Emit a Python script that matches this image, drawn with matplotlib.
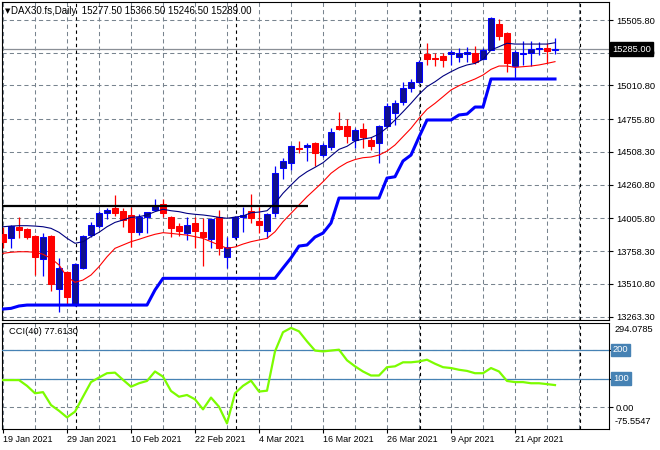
import matplotlib
matplotlib.use("Agg")
import matplotlib.pyplot as plt
import numpy as np

# DAX30.fs daily bars, 19 Jan 2021 .. 28 Apr 2021 (70 bars)
opens = [13888, 13860, 13943, 13925, 13875, 13697, 13875, 13472, 13603, 13351,
         13629, 13880, 13951, 14044, 14087, 14063, 14032, 13905, 14019, 14069,
         14112, 14019, 13948, 13893, 13969, 13901, 13848, 14014, 13716, 13868,
         14014, 14062, 13986, 13913, 14044, 14385, 14427, 14538, 14548, 14574,
         14485, 14548, 14707, 14707, 14599, 14679, 14599, 14574, 14707, 14805,
         14884, 14989, 15035, 15249, 15215, 15231, 15246, 15224, 15246, 15254,
         15209, 15279, 15476, 15405, 15160, 15246, 15259, 15284, 15297, 15277.5]
highs = [13941, 13955, 14018, 13930, 13880, 13893, 13880, 13709, 13608, 13668,
         13880, 13981, 14064, 14082, 14183, 14082, 14094, 14037, 14057, 14152,
         14152, 14026, 13973, 14019, 14019, 14007, 14011, 14069, 13868, 14024,
         14094, 14190, 14094, 14044, 14402, 14460, 14561, 14593, 14574, 14586,
         14574, 14687, 14813, 14755, 14687, 14725, 14624, 14712, 14876, 14901,
         15039, 15060, 15203, 15330, 15254, 15254, 15279, 15292, 15299, 15309,
         15292, 15525, 15511, 15413, 15279, 15347, 15349, 15337, 15330, 15366.5]
lows = [13782, 13782, 13855, 13850, 13575, 13573, 13457, 13296, 13351, 13344,
        13623, 13868, 13933, 14001, 14024, 13943, 13792, 13880, 13898, 14062,
        14019, 13868, 13875, 13843, 13780, 13648, 13780, 13729, 13633, 13848,
        13905, 13969, 13893, 13855, 14019, 14302, 14372, 14498, 14442, 14402,
        14472, 14523, 14674, 14574, 14536, 14536, 14523, 14422, 14699, 14712,
        14863, 14959, 15027, 15166, 15160, 15153, 15166, 15191, 15191, 15171,
        15203, 15279, 15355, 15115, 15077, 15166, 15158, 15241, 15183, 15246.5]
closes = [13827, 13948, 13920, 13867, 13716, 13863, 13507, 13633, 13414, 13661,
          13873, 13956, 14044, 14069, 14044, 13995, 13905, 14019, 14052, 14107,
          14044, 13936, 13913, 13956, 13913, 13868, 14000, 13780, 13790, 14014,
          14029, 14012, 13956, 14039, 14347, 14442, 14553, 14530, 14561, 14498,
          14561, 14657, 14682, 14631, 14674, 14624, 14556, 14705, 14858, 14876,
          14989, 15035, 15191, 15211, 15210, 15203, 15266, 15254, 15266, 15186,
          15279, 15519, 15387, 15178, 15262, 15259, 15284, 15297, 15274, 15289.0]

ma_fast = [13943, 13948, 13951, 13951, 13948, 13943, 13931, 13901, 13856, 13818,
           13830, 13868, 13901, 13943, 13976, 13994, 14014, 14019, 14032, 14057,
           14075, 14064, 14057, 14044, 14037, 14032, 14024, 14014, 14007, 14016,
           14024, 14049, 14054, 14064, 14120, 14196, 14258, 14317, 14359, 14392,
           14427, 14478, 14528, 14551, 14591, 14606, 14616, 14644, 14692, 14750,
           14812, 14876, 14944, 15002, 15039, 15082, 15115, 15145, 15166, 15178,
           15209, 15279, 15304, 15330, 15324, 15324, 15324, 15324, 15324, 15334]
ma_slow = [13742, 13750, 13754, 13754, 13750, 13735, 13704, 13654, 13565, 13523,
           13540, 13578, 13641, 13716, 13780, 13805, 13830, 13848, 13868, 13886,
           13898, 13893, 13886, 13880, 13868, 13855, 13830, 13805, 13780, 13790,
           13812, 13830, 13843, 13855, 13905, 13981, 14044, 14107, 14170, 14226,
           14283, 14347, 14392, 14428, 14451, 14465, 14470, 14485, 14515, 14561,
           14624, 14687, 14763, 14831, 14876, 14926, 14977, 15009, 15036, 15060,
           15090, 15133, 15158, 15158, 15148, 15153, 15158, 15166, 15178, 15191]
trail_stop = [13321, 13326, 13344, 13351, 13351, 13351, 13351, 13351, 13351, 13351,
              13351, 13351, 13351, 13351, 13351, 13351, 13351, 13351, 13351, 13465,
              13553, 13553, 13553, 13553, 13553, 13553, 13553, 13553, 13553, 13553,
              13553, 13553, 13553, 13553, 13553, 13631, 13707, 13797, 13805, 13865,
              13895, 13971, 14160, 14160, 14160, 14160, 14160, 14160, 14311, 14321,
              14440, 14485, 14621, 14750, 14750, 14750, 14750, 14788, 14795, 14848,
              14848, 15060, 15060, 15060, 15060, 15060, 15060, 15060, 15060, 15060]
cci = [95, 95, 95, 75, 49, 53, 8, -12, -35, -15,
       37, 88, 104, 119, 121, 96, 72, 84, 92, 125,
       107, 57, 37, 43, 28, -7, 34, 2, -56, 49,
       75, 93, 55, 58, 195, 262, 277, 265, 230, 198,
       195, 198, 201, 164, 143, 125, 111, 111, 140, 143,
       157, 157, 160, 166, 152, 140, 137, 131, 127, 119,
       119, 137, 125, 92, 88, 88, 84, 84, 81, 77.613]

date_pos = [0, 8, 16, 24, 32, 40, 48, 56, 64]
date_labels = ["19 Jan 2021", "29 Jan 2021", "10 Feb 2021", "22 Feb 2021", "4 Mar 2021",
               "16 Mar 2021", "26 Mar 2021", "9 Apr 2021", "21 Apr 2021"]
month_starts = [9, 29, 52, 72]
price_ticks = [15505.8, 15258.3, 15010.8, 14755.8, 14508.3, 14260.8, 14005.8,
               13758.3, 13510.8, 13263.3]
resistance = 14100
resistance_from, resistance_to = -0.2, 38.1
last_price = 15285.0
header = "DAX30.fs,Daily  15277.50 15366.50 15246.50 15289.00"

W, H = 660, 450
GRID = "#78848f"
plt.rcParams["font.family"] = ["Liberation Sans", "DejaVu Sans"]

fig = plt.figure(figsize=(W / 100, H / 100), dpi=100)
ax = fig.add_axes([2 / W, 1 - 320 / H, 607 / W, 318 / H])
cax = fig.add_axes([2 / W, 1 - 429 / H, 607 / W, 106 / H])

x = np.arange(len(opens))
o, h, l, c = map(np.array, (opens, highs, lows, closes))
up = c >= o
wick_col = np.where(up, "#0000ff", "#ff0000")
body_col = np.where(up, "#10108c", "#ff0000")

ax.vlines(x, l, h, colors=wick_col, linewidth=0.9, zorder=3)
ax.bar(x, np.maximum(np.abs(c - o), 2), bottom=np.minimum(o, c), width=0.68,
       color=body_col, edgecolor=wick_col, linewidth=0.75, zorder=4)
ax.plot(x, ma_fast, color="#000080", lw=0.8, zorder=5)
ax.plot(x, ma_slow, color="#ff0000", lw=0.8, zorder=5)
ax.plot(x, trail_stop, color="#0000ff", lw=2.2, zorder=5)
ax.hlines(resistance, resistance_from, resistance_to, color="black", lw=1.6, zorder=6)
ax.axhline(last_price, color="#8a8f96", lw=0.9, zorder=2)

cax.plot(x, cci, color="#7cfc00", lw=1.6, zorder=4)
for lvl in (200, 100):
    cax.axhline(lvl, color="#4682b4", lw=0.9, zorder=3)

for a in (ax, cax):
    a.set_xlim(-0.125, 75.75)
    a.set_xticks(date_pos)
    a.set_xticks(range(0, 76, 4), minor=True)
    a.grid(axis="x", which="both", color=GRID, linestyle=(0, (4, 3)), linewidth=0.75)
    a.grid(axis="y", color=GRID, linestyle=(0, (4, 3)), linewidth=0.75)
    a.set_axisbelow(True)
    for m in month_starts:
        a.axvline(m + 0.1, color="black", lw=0.8, linestyle=(0, (3, 3)), zorder=1.5)
    for s in a.spines.values():
        s.set_color("black")
        s.set_linewidth(0.8)
    a.yaxis.tick_right()
    a.tick_params(axis="y", length=3, width=0.8, pad=2, labelsize=6.7, colors="black")
    a.tick_params(axis="x", which="minor", length=0)

ax.set_ylim(13238, 15642)
ax.set_yticks(price_ticks)
ax.set_yticklabels([f"{v:.2f}" for v in price_ticks])
ax.tick_params(axis="x", which="major", length=0, labelbottom=False)

cax.set_ylim(-75.5547, 294.0785)
cax.set_yticks([200, 100, 0])
cax.set_yticklabels(["", "", "0.00"])
cax.set_xticklabels(date_labels)
cax.tick_params(axis="x", which="major", length=3, width=0.8, pad=1.5, labelsize=6.5)
for lbl in cax.get_xticklabels():
    lbl.set_horizontalalignment("left")

ytr = ax.get_yaxis_transform()
ax.text(1 + 3 / 607, last_price, f"{last_price:.2f}", transform=ytr, va="center",
        ha="left", fontsize=6.7, color="white", zorder=10, clip_on=False,
        bbox=dict(boxstyle="square,pad=0.25", fc="black", ec="black"))

ctr = cax.get_yaxis_transform()
cax.text(1 + 6 / 607, 271, "294.0785", transform=ctr, va="center", ha="left",
         fontsize=6.7, clip_on=False)
cax.text(1 + 6 / 607, -50, "-75.5547", transform=ctr, va="center", ha="left",
         fontsize=6.7, clip_on=False)
for lvl in (200, 100):
    cax.text(1 + 4 / 607, lvl, str(lvl), transform=ctr, va="center", ha="left",
             fontsize=6.7, color="white", clip_on=False, zorder=10,
             bbox=dict(boxstyle="square,pad=0.2", fc="#4682b4", ec="#4682b4"))
cax.text(7 / 607, 0.918, "CCI(40) 77.6130", transform=cax.transAxes, va="center",
         ha="left", fontsize=6.7)

fig.text(5 / W, 1 - 11 / H, "\u25bc", fontsize=5, family="DejaVu Sans", va="center")
fig.text(11 / W, 1 - 10.5 / H, header, fontsize=7, va="center")

fig.savefig("out.png", dpi=100)
